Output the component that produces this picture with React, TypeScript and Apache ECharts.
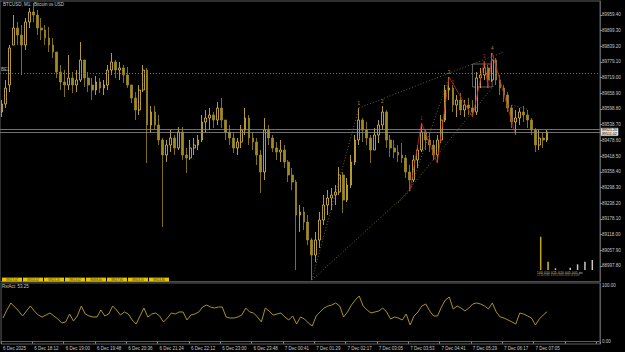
import React, { useEffect, useRef } from 'react';
import * as echarts from 'echarts';

// ---------- data ----------
const timeLabels = [
  '6 Dec 2025', '6 Dec 18:12', '6 Dec 19:00', '6 Dec 19:48', '6 Dec 20:36', '6 Dec 21:24',
  '6 Dec 22:12', '6 Dec 23:00', '6 Dec 23:48', '7 Dec 00:41', '7 Dec 01:29', '7 Dec 02:17',
  '7 Dec 03:05', '7 Dec 03:53', '7 Dec 04:41', '7 Dec 05:29', '7 Dec 06:17', '7 Dec 07:05',
];
const BARS_PER_LABEL = 8;
const SLOT_COUNT = 153;

const open = [
  89587.3, 89617.9, 89690.6, 89843.7, 89908.8, 89882.0, 89843.7, 89931.8, 89970.1, 89958.6,
  89908.8, 89901.2, 89870.5, 89843.7, 89816.9, 89740.4, 89702.1, 89690.6, 89717.4, 89690.6,
  89709.8, 89786.3, 89717.4, 89690.6, 89671.5, 89702.1, 89679.1, 89690.6, 89748.0, 89778.7,
  89748.0, 89755.7, 89728.9, 89690.6, 89640.9, 89594.9, 89671.5, 89748.0, 89537.5, 89587.3,
  89537.5, 89480.1, 89422.7, 89460.9, 89487.7, 89449.5, 89510.7, 89422.7, 89411.2, 89449.5,
  89460.9, 89480.1, 89549.0, 89564.3, 89575.8, 89556.6, 89602.6, 89556.6, 89510.7, 89487.7,
  89449.5, 89472.4, 89518.4, 89564.3, 89487.7, 89472.4, 89422.7, 89357.6, 89518.4, 89487.7,
  89449.5, 89434.1, 89441.8, 89395.9, 89346.1, 89319.3, 89193.0, 89204.5, 89166.2, 89097.3,
  89039.9, 89097.3, 89173.8, 89231.3, 89258.1, 89269.5, 89281.0, 89346.1, 89250.4, 89307.8,
  89395.9, 89480.1, 89556.6, 89518.4, 89487.7, 89441.8, 89499.2, 89537.5, 89587.3, 89480.1,
  89449.5, 89434.1, 89422.7, 89411.2, 89357.6, 89327.0, 89403.5, 89441.8, 89510.7, 89480.1,
  89460.9, 89422.7, 89480.1, 89556.6, 89671.5, 89679.1, 89614.1, 89633.2, 89594.9, 89614.1,
  89602.6, 89587.3, 89717.4, 89728.9, 89755.7, 89709.8, 89786.3, 89709.8, 89679.1, 89652.3,
  89602.6, 89549.0, 89564.3, 89587.3, 89575.8, 89556.6, 89518.4, 89460.9, 89487.7, 89480.1,
];
const close = [
  89617.9, 89679.1, 89832.3, 89908.8, 89882.0, 89843.7, 89931.8, 89970.1, 89958.6, 89908.8,
  89901.2, 89870.5, 89843.7, 89816.9, 89740.4, 89702.1, 89690.6, 89717.4, 89690.6, 89709.8,
  89786.3, 89717.4, 89690.6, 89671.5, 89702.1, 89679.1, 89690.6, 89748.0, 89778.7, 89748.0,
  89755.7, 89728.9, 89690.6, 89640.9, 89594.9, 89671.5, 89748.0, 89537.5, 89587.3, 89537.5,
  89480.1, 89422.7, 89460.9, 89487.7, 89449.5, 89510.7, 89422.7, 89411.2, 89449.5, 89460.9,
  89480.1, 89549.0, 89564.3, 89575.8, 89556.6, 89602.6, 89556.6, 89510.7, 89487.7, 89449.5,
  89472.4, 89518.4, 89564.3, 89487.7, 89472.4, 89422.7, 89357.6, 89518.4, 89487.7, 89449.5,
  89434.1, 89441.8, 89395.9, 89346.1, 89319.3, 89193.0, 89204.5, 89166.2, 89097.3, 89039.9,
  89097.3, 89173.8, 89231.3, 89258.1, 89269.5, 89281.0, 89346.1, 89250.4, 89307.8, 89395.9,
  89480.1, 89556.6, 89518.4, 89487.7, 89441.8, 89499.2, 89537.5, 89587.3, 89480.1, 89449.5,
  89434.1, 89422.7, 89411.2, 89357.6, 89327.0, 89403.5, 89441.8, 89510.7, 89480.1, 89460.9,
  89422.7, 89480.1, 89556.6, 89671.5, 89679.1, 89614.1, 89633.2, 89594.9, 89614.1, 89602.6,
  89587.3, 89717.4, 89728.9, 89755.7, 89709.8, 89786.3, 89709.8, 89679.1, 89652.3, 89602.6,
  89549.0, 89564.3, 89587.3, 89575.8, 89556.6, 89518.4, 89460.9, 89487.7, 89480.1, 89511.0,
];
const low = [
  89568.1, 89602.6, 89663.8, 89843.7, 89843.7, 89728.9, 89824.6, 89908.8, 89931.8, 89882.0,
  89862.9, 89843.7, 89816.9, 89794.0, 89717.4, 89671.5, 89644.7, 89671.5, 89660.0, 89663.8,
  89702.1, 89683.0, 89663.8, 89633.2, 89652.3, 89660.0, 89652.3, 89671.5, 89728.9, 89717.4,
  89709.8, 89698.3, 89679.1, 89621.7, 89556.6, 89575.8, 89663.8, 89392.0, 89506.9, 89518.4,
  89460.9, 89147.0, 89395.9, 89434.1, 89422.7, 89441.8, 89403.5, 89353.8, 89403.5, 89422.7,
  89441.8, 89472.4, 89510.7, 89518.4, 89526.0, 89537.5, 89526.0, 89480.1, 89460.9, 89430.3,
  89422.7, 89449.5, 89499.2, 89460.9, 89441.8, 89384.4, 89277.2, 89327.0, 89460.9, 89434.1,
  89403.5, 89395.9, 89372.9, 89319.3, 89288.7, 88982.4, 89127.9, 89135.6, 89078.1, 88944.2,
  89013.1, 89066.7, 89154.7, 89193.0, 89212.1, 89231.3, 89269.5, 89200.6, 89242.7, 89296.3,
  89384.4, 89460.9, 89472.4, 89460.9, 89392.0, 89441.8, 89468.6, 89518.4, 89449.5, 89415.0,
  89411.2, 89395.9, 89392.0, 89334.6, 89284.9, 89319.3, 89372.9, 89434.1, 89441.8, 89434.1,
  89403.5, 89392.0, 89468.6, 89549.0, 89633.2, 89587.3, 89568.1, 89575.8, 89568.1, 89575.8,
  89568.1, 89575.8, 89679.1, 89709.8, 89679.1, 89702.1, 89690.6, 89652.3, 89625.5, 89587.3,
  89526.0, 89499.2, 89537.5, 89549.0, 89526.0, 89499.2, 89434.1, 89441.8, 89449.5, 89472.4,
];
const high = [
  89633.2, 89709.8, 89843.7, 89958.6, 89931.8, 89920.3, 89947.1, 89985.4, 90004.5, 89977.7,
  89947.1, 89920.3, 89912.6, 89870.5, 89805.5, 89767.2, 89748.0, 89805.5, 89740.4, 89748.0,
  89855.2, 89786.3, 89740.4, 89717.4, 89725.1, 89717.4, 89709.8, 89767.2, 89813.1, 89786.3,
  89778.7, 89767.2, 89759.5, 89690.6, 89663.8, 89690.6, 89767.2, 89755.7, 89610.2, 89610.2,
  89575.8, 89487.7, 89480.1, 89518.4, 89499.2, 89529.8, 89529.8, 89449.5, 89480.1, 89487.7,
  89499.2, 89575.8, 89594.9, 89602.6, 89587.3, 89625.5, 89640.9, 89556.6, 89537.5, 89510.7,
  89487.7, 89537.5, 89602.6, 89575.8, 89510.7, 89487.7, 89441.8, 89564.3, 89537.5, 89499.2,
  89472.4, 89480.1, 89460.9, 89403.5, 89372.9, 89327.0, 89231.3, 89223.6, 89193.0, 89105.1,
  89127.9, 89204.5, 89269.5, 89288.7, 89296.3, 89307.8, 89376.7, 89357.6, 89334.6, 89422.7,
  89499.2, 89602.6, 89564.3, 89549.0, 89499.2, 89526.0, 89556.6, 89610.2, 89594.9, 89499.2,
  89480.1, 89460.9, 89468.6, 89422.7, 89384.4, 89422.7, 89460.9, 89545.2, 89518.4, 89506.9,
  89480.1, 89499.2, 89575.8, 89690.6, 89721.2, 89690.6, 89652.3, 89660.0, 89633.2, 89640.9,
  89633.2, 89740.4, 89755.7, 89782.5, 89767.2, 89813.1, 89794.0, 89728.9, 89690.6, 89663.8,
  89614.1, 89594.9, 89602.6, 89610.2, 89594.9, 89564.3, 89526.0, 89518.4, 89510.7, 89518.4,
];
const rsi = [
  42.0, 56.2, 68.6, 61.5, 54.4, 45.6, 54.4, 63.3, 54.4, 47.3,
  43.8, 47.3, 50.9, 45.6, 40.3, 33.2, 35.0, 49.1, 36.7, 45.6,
  63.3, 49.1, 45.6, 43.8, 43.8, 56.2, 45.6, 49.1, 63.3, 56.2,
  47.3, 52.7, 49.1, 38.5, 31.4, 45.6, 59.7, 43.8, 49.1, 50.9,
  45.6, 35.0, 42.0, 50.9, 49.1, 52.7, 52.7, 38.5, 47.3, 49.1,
  52.7, 61.5, 65.0, 61.5, 59.7, 61.5, 61.5, 43.8, 42.0, 42.0,
  43.8, 47.3, 59.7, 52.7, 50.9, 43.8, 35.0, 59.7, 54.4, 47.3,
  49.1, 50.9, 43.8, 38.5, 45.6, 31.4, 43.8, 40.3, 33.2, 27.9,
  45.6, 52.7, 59.7, 63.3, 65.0, 68.6, 63.3, 43.8, 52.7, 65.0,
  73.9, 81.0, 63.3, 56.2, 50.9, 52.7, 54.4, 59.7, 52.7, 40.3,
  43.8, 42.0, 38.5, 49.1, 29.6, 45.6, 52.7, 63.3, 66.8, 54.4,
  45.6, 45.6, 61.5, 73.9, 79.2, 58.0, 63.3, 59.7, 54.4, 59.7,
  66.8, 68.6, 66.8, 63.3, 58.0, 68.6, 52.7, 43.8, 42.0, 38.5,
  35.0, 31.4, 50.9, 49.1, 45.6, 42.0, 29.6, 40.3, 47.3, 53.25,
];

const priceMin = 88937.7;
const priceMax = 90012.2;
const priceStep = 60.1;
const beLevel = 89736.6;
const askPrice = 89521.2;
const bidPrice = 89511.02;

// zigzag (red) and wave labels
const zigIdx = [104, 107, 111, 114, 120, 123, 124, 125, 131];
const zigPrice = [89284.9, 89545.2, 89392.0, 89721.2, 89568.1, 89782.5, 89679.1, 89813.1, 89499.2];
const waveIdx = [91, 97, 114, 125];
const wavePrice = [89602.6, 89610.2, 89721.2, 89813.1];
const waveText = ['1', '2', '3', '4'];
const subWaveIdx = [107, 115, 123];
const subWavePrice = [89545.2, 89683.0, 89782.5];
const subWaveText = ['1', '2', '3'];
// trend lines: [idxA, priceA, idxB, priceB]
const trendLines = [
  [79, 88944.2, 91, 89602.6],
  [91, 89602.6, 128, 89817.0],
  [79, 88944.2, 104, 89284.9],
  [101, 89239.0, 126, 89698.0],
  [104, 89284.9, 114, 89721.2],
  [130, 89614.0, 134, 89598.0],
];
const boxCorners = [120, 89771.0, 125, 89683.0];

// small histogram at bottom right
const histSlots = ['a', 'b', 'c', 'd', 'e', 'f', 'g', 'h'];
const histValues = [100, 25, 5, 0, 7, 17, 25, 30];

const buttonLabels = ['89513.02', '89511.02', '89521.20', '89513.02', '89498.40', '89517.60', '89503.10', '89524.80'];

const FONT = '"Liberation Sans", Arial, sans-serif';
const TXT = '#c8c8c8';

export default function App() {
  const ref = useRef<HTMLDivElement>(null);
  useEffect(() => {
    if (!ref.current) return;
    const chart = echarts.init(ref.current, null, { renderer: 'svg' });
    const cats = Array.from({ length: SLOT_COUNT }, (_, i) => String(i));
    const candles = open.map((o, i) => [o, close[i], low[i], high[i]]);
    const trendStyle = { color: '#8a782c', type: [1, 2] as any, width: 0.8 };

    const graphics: any[] = [
      {
        type: 'text', left: 3, top: 1.5,
        style: { text: 'BTCUSD, M1:  Bitcoin vs USD', fill: TXT, fontSize: 4.5, fontFamily: FONT },
      },
      {
        type: 'text', left: 2, top: 283.5,
        style: { text: 'RsiAct: ' + rsi[rsi.length - 1].toFixed(2), fill: TXT, fontSize: 4.5, fontFamily: FONT },
      },
      {
        type: 'text', left: 537, top: 270.6,
        style: { text: '1.00  0.50  0.25  0.10  0.05  0.01  pts', fill: '#d0d0d0', fontSize: 2.8, fontFamily: FONT },
      },
      {
        type: 'text', left: 537, top: 274,
        style: { text: '+1.20 0.80  0.45 0.30 0.20 0.10 0.05', fill: '#b09a28', fontSize: 2.6, fontFamily: FONT },
      },
    ];
    buttonLabels.forEach((t, i) => {
      graphics.push({
        type: 'group', left: 2 + i * 21, top: 277.6,
        children: [
          { type: 'rect', shape: { x: 0, y: 0, width: 20, height: 4 }, style: { fill: '#e6c400' } },
          { type: 'text', x: 10, y: 2, style: { text: t, fill: '#3a3000', fontSize: 2.8, fontFamily: FONT, align: 'center', verticalAlign: 'middle' } },
        ],
      });
    });

    const option: any = {
      animation: false,
      backgroundColor: '#000000',
      textStyle: { fontFamily: FONT },
      grid: [
        { left: 0, top: 1, width: 600, height: 280.7, show: true, borderColor: '#5e5e5e', borderWidth: 1, backgroundColor: 'transparent' },
        { left: 0, top: 283, width: 600, height: 61, show: true, borderColor: '#5e5e5e', borderWidth: 1, backgroundColor: 'transparent' },
        { left: 537, top: 230, width: 59, height: 40 },
      ],
      xAxis: [
        { type: 'category', gridIndex: 0, data: cats, boundaryGap: true, show: false },
        {
          type: 'category', gridIndex: 1, data: cats, boundaryGap: true, position: 'bottom',
          axisLine: { show: true, lineStyle: { color: '#5e5e5e' } },
          axisTick: { show: true, interval: BARS_PER_LABEL - 1, length: 2, lineStyle: { color: '#8a8a8a' } },
          axisLabel: {
            interval: BARS_PER_LABEL - 1, color: TXT, fontSize: 4.5, fontFamily: FONT, margin: 2, align: 'left',
            formatter: (_v: string, idx: number) => (idx % BARS_PER_LABEL === 0 ? timeLabels[idx / BARS_PER_LABEL] ?? '' : ''),
          },
          splitLine: { show: false },
        },
        { type: 'category', gridIndex: 2, data: histSlots, show: false, boundaryGap: true },
      ],
      yAxis: [
        {
          type: 'value', gridIndex: 0, position: 'right', min: priceMin, max: priceMax, interval: priceStep,
          axisLine: { show: true, lineStyle: { color: '#5e5e5e' } },
          axisTick: { show: true, length: 2, lineStyle: { color: '#8a8a8a' } },
          axisLabel: {
            color: TXT, fontSize: 4.5, fontFamily: FONT, margin: 2, showMinLabel: false, showMaxLabel: false,
            formatter: (v: number) => v.toFixed(2),
          },
          splitLine: { show: false },
        },
        {
          type: 'value', gridIndex: 1, position: 'right', min: -4, max: 104, interval: 4,
          axisLine: { show: true, lineStyle: { color: '#5e5e5e' } },
          axisTick: { show: false },
          axisLabel: {
            color: TXT, fontSize: 4.5, fontFamily: FONT, margin: 2,
            formatter: (v: number) => (Math.abs(v) < 1e-6 ? '0.00' : Math.abs(v - 100) < 1e-6 ? '100.00' : ''),
          },
          splitLine: { show: false },
        },
        { type: 'value', gridIndex: 2, min: 0, max: 120, show: false },
      ],
      series: [
        {
          type: 'candlestick', xAxisIndex: 0, yAxisIndex: 0, data: candles, barWidth: 2.3,
          itemStyle: { color: '#000000', color0: '#a08a22', borderColor: '#e2c240', borderColor0: '#a08a22', borderWidth: 0.8 },
          markLine: {
            silent: true, symbol: ['none', 'none'], animation: false,
            label: { show: false },
            data: [
              {
                yAxis: beLevel, lineStyle: { color: '#8a7620', type: [1, 2], width: 1 },
                label: { show: true, position: 'insideStartTop', formatter: 'BE1', color: '#bdbdbd', fontSize: 4.5, fontFamily: FONT, distance: 1 },
              },
              {
                yAxis: askPrice, lineStyle: { color: '#8c8c8c', type: 'solid', width: 0.8 },
                label: { show: false },
              },
              {
                yAxis: bidPrice, lineStyle: { color: '#8c8c8c', type: 'solid', width: 0.8 },
                label: {
                  show: true, position: 'end',
                  formatter: askPrice.toFixed(2) + '\n' + bidPrice.toFixed(2),
                  color: '#000', backgroundColor: '#e4e4dc', borderColor: '#808080', borderWidth: 0.5,
                  fontSize: 3.6, lineHeight: 3.7, fontFamily: FONT, padding: [0, 1], distance: 1,
                },
              },
              ...trendLines.map((t) => [
                { coord: [t[0], t[1]], lineStyle: trendStyle },
                { coord: [t[2], t[3]] },
              ]),
            ],
          },
          markArea: {
            silent: true,
            itemStyle: { color: 'rgba(0,0,0,0)', borderColor: '#7a7a7a', borderWidth: 0.8 },
            data: [[{ coord: [boxCorners[0], boxCorners[1]] }, { coord: [boxCorners[2], boxCorners[3]] }]],
          },
        },
        {
          type: 'line', xAxisIndex: 0, yAxisIndex: 0, symbol: 'none',
          data: zigIdx.map((x, i) => [x, zigPrice[i]]),
          lineStyle: { color: '#c8282a', width: 0.8 },
          silent: true,
        },
        {
          type: 'scatter', xAxisIndex: 0, yAxisIndex: 0, symbolSize: 0.1,
          data: waveIdx.map((x, i) => [x, wavePrice[i]]),
          itemStyle: { color: 'rgba(0,0,0,0)' },
          label: {
            show: true, position: 'top', distance: 1.5, color: '#e0b830', fontSize: 4.5, fontFamily: FONT,
            formatter: (p: any) => waveText[p.dataIndex],
          },
          silent: true,
        },
        {
          type: 'scatter', xAxisIndex: 0, yAxisIndex: 0, symbolSize: 0.1,
          data: subWaveIdx.map((x, i) => [x, subWavePrice[i]]),
          itemStyle: { color: 'rgba(0,0,0,0)' },
          label: {
            show: true, position: 'top', distance: 1.5, color: '#d83a30', fontSize: 4.5, fontFamily: FONT,
            formatter: (p: any) => subWaveText[p.dataIndex],
          },
          silent: true,
        },
        {
          type: 'line', xAxisIndex: 1, yAxisIndex: 1, data: rsi, symbol: 'none',
          lineStyle: { color: '#a89028', width: 1 },
          silent: true,
        },
        {
          type: 'bar', xAxisIndex: 2, yAxisIndex: 2, barWidth: 1.5,
          data: histValues.map((v, i) => ({ value: v, itemStyle: { color: i === 0 ? '#c8a400' : i === 1 ? '#e0c000' : '#c8c8c8' } })),
          silent: true,
        },
      ],
      graphic: graphics,
    };
    chart.setOption(option);
    return () => chart.dispose();
  }, []);
  return (
    <div
      ref={ref}
      style={{ position: 'fixed', left: 0, top: 0, width: 625, height: 352, background: '#000' }}
    />
  );
}
